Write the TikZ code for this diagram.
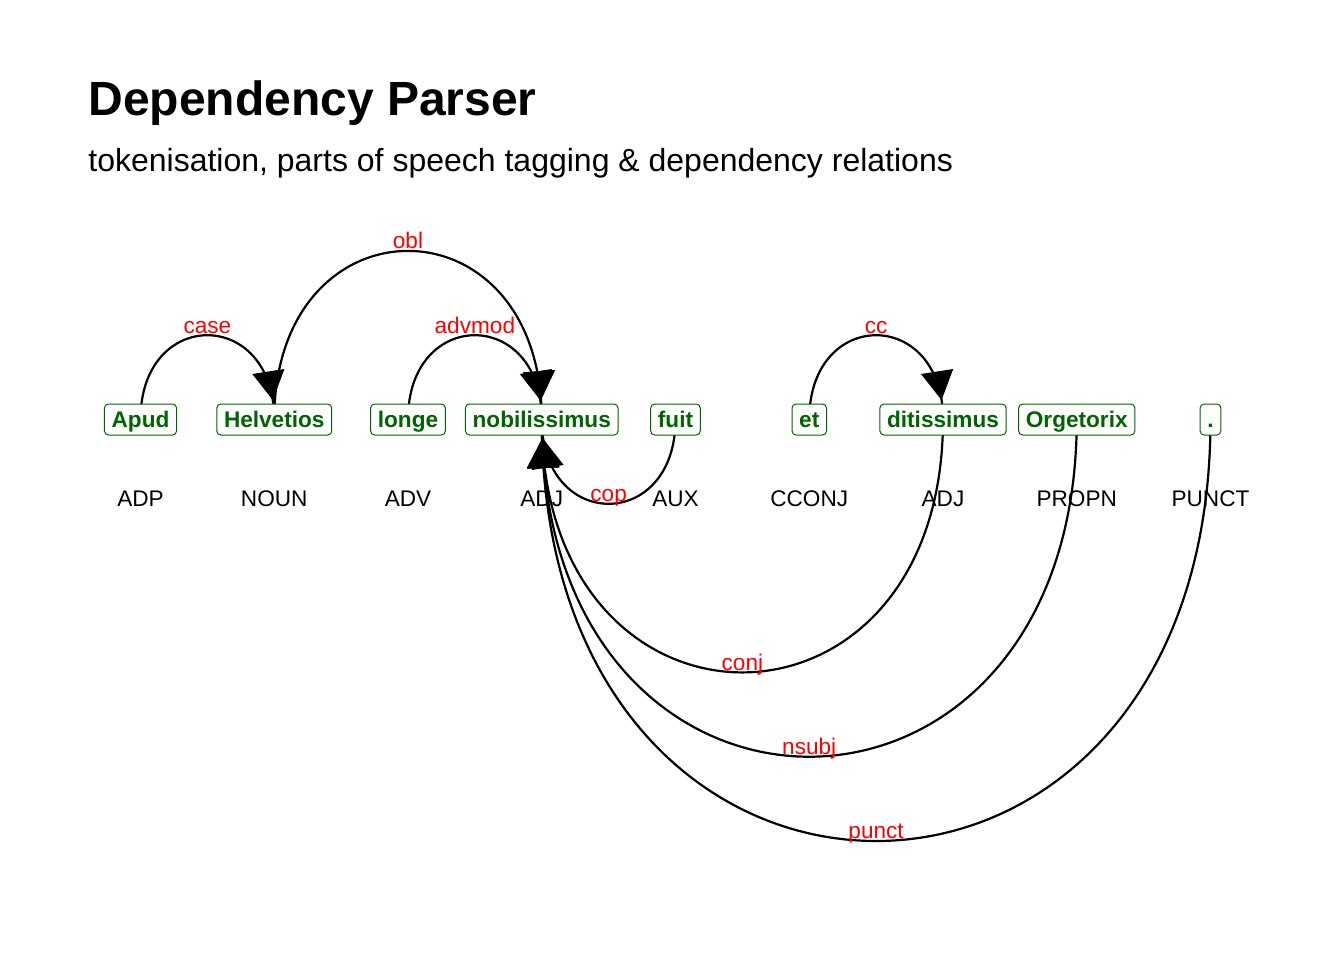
\documentclass[tikz,border=0pt]{standalone}
\usepackage{fontspec}
\setmainfont{Liberation Sans}
\usetikzlibrary{arrows.meta,decorations.markings}
\definecolor{wordgreen}{HTML}{006400}
\pgfdeclarelayer{background}
\pgfsetlayers{background,main}
\tikzset{
  word/.style={draw=wordgreen, text=wordgreen, fill=white, font=\fontsize{11.3}{13}\selectfont\bfseries,
    rounded corners=2pt, line width=0.5pt, inner xsep=3.6pt, inner ysep=2.3pt, text height=9.2pt, text depth=1.7pt},
  tag/.style={font=\fontsize{11.3}{13}\selectfont},
  rel/.style={text=red, font=\fontsize{11.3}{13}\selectfont, anchor=base, inner sep=0pt, yshift=1.1pt},
  up/.style={out=90, in=90, looseness=2.155},
  down/.style={out=-90, in=-90, looseness=2.155},
  dep/.style={line width=1.1pt, postaction={decorate, decoration={markings,
    mark=at position -9.75pt with {\arrow{Triangle[length=14.5pt,width=16pt]}}}}}
}

\begin{document}
\begin{tikzpicture}[x=0.5pt, y=-0.5pt]
  \useasboundingbox (0,0) rectangle (1344,960);
  \node[anchor=base west, inner sep=0pt, font=\fontsize{24}{28}\selectfont\bfseries] (title) at (88,115) {Dependency Parser};
  \node[anchor=base west, inner sep=0pt, font=\fontsize{16}{19}\selectfont] (subtitle) at (88,171) {tokenisation, parts of speech tagging \& dependency relations};

  % tokens
  \node[word] (apud) at (140.5,419.5) {Apud};   \node[word] (helv) at (274.25,419.5) {Helvetios};
  \node[word] (longe) at (408,419.5) {longe};   \node[word] (nob) at (541.75,419.5) {nobilissimus};
  \node[word] (fuit) at (675.5,419.5) {fuit};   \node[word] (et) at (809.25,419.5) {et};
  \node[word] (dit) at (943,419.5) {ditissimus};   \node[word] (orge) at (1076.75,419.5) {Orgetorix};
  \node[word] (dot) at (1210.5,419.5) {.};

  \node[tag] (p1) at (140.5,499) {ADP};   \node[tag] (p2) at (274.25,499) {NOUN};   \node[tag] (p3) at (408,499) {ADV};
  \node[tag] (p4) at (541.75,499) {ADJ};   \node[tag] (p5) at (675.5,499) {AUX};   \node[tag] (p6) at (809.25,499) {CCONJ};
  \node[tag] (p7) at (943,499) {ADJ};   \node[tag] (p8) at (1076.75,499) {PROPN};   \node[tag] (p9) at (1210.5,499) {PUNCT};

  \begin{pgfonlayer}{background}
   \draw[dep] (apud.center) to[up] node[rel] {case} (helv.center);
   \draw[dep] (helv.center) to[up] node[rel] {obl} (nob.center);
   \draw[dep] (longe.center) to[up] node[rel] {advmod} (nob.center);
   \draw[dep] (et.center) to[up] node[rel] {cc} (dit.center);
   \draw[dep] (fuit.center) to[down] node[rel] {cop} (nob.center);
   \draw[dep] (dit.center) to[down] node[rel] {conj} (nob.center);
   \draw[dep] (orge.center) to[down] node[rel] {nsubj} (nob.center);
   \draw[dep] (dot.center) to[down] node[rel] {punct} (nob.center);
  \end{pgfonlayer}
\end{tikzpicture}
\end{document}
